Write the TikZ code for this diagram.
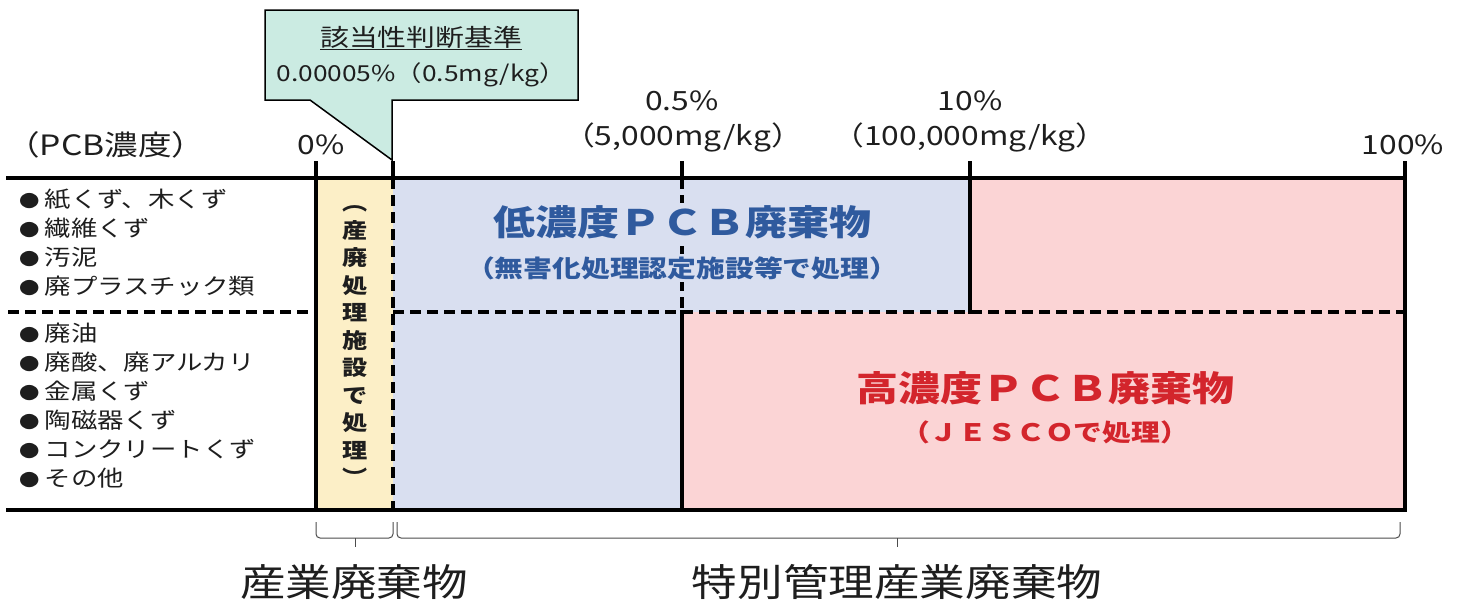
\documentclass[tikz,border=0pt]{standalone}
\usepackage{fontspec}
\setmainfont[FakeStretch=1.2]{Noto Sans CJK JP}
\definecolor{yel}{HTML}{FCEFC7}
\definecolor{blu}{HTML}{D9DFF0}
\definecolor{pnk}{HTML}{FBD4D5}
\definecolor{teal}{HTML}{CBEBE2}
\definecolor{btxt}{HTML}{2F5A9E}
\definecolor{rtxt}{HTML}{D3252C}
\definecolor{gtxt}{HTML}{1E1E1E}
\newcommand{\bul}{{\fontsize{17}{17}\selectfont ●}\hspace{5pt}}
\begin{document}
\begin{tikzpicture}[x=1pt,y=-1pt,
  solidln/.style={line width=3.5pt,line cap=rect},
  dashln/.style={line width=3.5pt,dash pattern=on 11pt off 6pt},
  brace/.style={line width=1pt,draw=black!70,rounded corners=4pt},
  txt/.style={inner sep=0pt,text=gtxt},
  listtxt/.style={txt,anchor=north west,align=left,font=\fontsize{22}{29}\selectfont},
  numtxt/.style={txt,font=\fontsize{26.5}{30}\selectfont},
  bigtitle/.style={inner sep=2pt,font=\fontsize{35}{40}\selectfont\bfseries},
  subtitle/.style={inner sep=2pt,font=\fontsize{24}{28}\selectfont\bfseries}]
\useasboundingbox (0,0) rectangle (1465,603);
% fills
\fill[yel] (316,178) rectangle (393,510);
\fill[blu] (393,178) rectangle (970,312);
\fill[blu] (393,312) rectangle (682,510);
\fill[pnk] (970,178) rectangle (1405,312);
\fill[pnk] (682,312) rectangle (1405,510);
% lines
\draw[dashln] (8,312) -- (316,312);
\draw[dashln] (393,312) -- (1405,312);
\draw[dashln] (393,178) -- (393,510);
\draw[dashln] (682,178) -- (682,312);
\draw[solidln] (682,312) -- (682,510);
\draw[solidln] (970,163) -- (970,312);
\draw[solidln] (316,163) -- (316,510);
\draw[solidln] (393,163) -- (393,178);
\draw[solidln] (682,163) -- (682,178);
\draw[solidln] (1405,163) -- (1405,510);
\draw[solidln] (8,178) -- (1405,178);
\draw[solidln] (8,510) -- (1405,510);
% callout
\draw[fill=teal,line width=1.5pt,line join=miter]
  (265,10) -- (578,10) -- (578,100) -- (392,100) -- (392,160) -- (310,100) -- (265,100) -- cycle;
\node[txt,font=\fontsize{24}{28}\selectfont] (cttl) at (421,38) {\underline{該当性判断基準}};
\node[txt,font=\fontsize{22}{26}\selectfont] (cval) at (421,75) {0.00005\%（0.5mg/kg）};
% axis labels
\node[txt,font=\fontsize{28}{32}\selectfont,anchor=west] (pcb) at (6,145) {（PCB濃度）};
\node[numtxt] (p0) at (321,145) {0\%};
\node[numtxt] (p05) at (682,101) {0.5\%};
\node[numtxt] (m05) at (683,137) {（5,000mg/kg）};
\node[numtxt] (p10) at (970,101) {10\%};
\node[numtxt] (m10) at (970,137) {（100,000mg/kg）};
\node[numtxt] (p100) at (1403,145) {100\%};
% list
\node[listtxt] (list1) at (19,189) {\bul 紙くず、木くず\\\bul 繊維くず\\\bul 汚泥\\\bul 廃プラスチック類};
\node[listtxt] (list2) at (19,323) {\bul 廃油\\\bul 廃酸、廃アルカリ\\\bul 金属くず\\\bul 陶磁器くず\\\bul コンクリートくず\\\bul その他};
% vertical column text
\node[txt,align=center,font=\fontsize{21}{27.5}\selectfont\bfseries] (col) at (355,346)
  {︵\\産\\廃\\処\\理\\施\\設\\で\\処\\理\\︶};
% titles
\node[bigtitle,text=btxt,fill=blu] (low) at (682,222) {低濃度ＰＣＢ廃棄物};
\node[subtitle,text=btxt,fill=blu] (lows) at (682,268) {（無害化処理認定施設等で処理）};
\node[bigtitle,text=rtxt] (high) at (1045,388) {高濃度ＰＣＢ廃棄物};
\node[subtitle,text=rtxt] (highs) at (1045,432) {（ＪＥＳＣＯで処理）};
% braces
\draw[brace] (316,522) -- (316,538) -- (393,538) -- (393,522);
\draw[brace] (397,522) -- (397,538) -- (1400,538) -- (1400,522);
\coordinate (b1) at (355,538);
\coordinate (b2) at (897,538);
\draw[line width=1pt,draw=black!70] (b1) -- ++(0,9);
\draw[line width=1pt,draw=black!70] (b2) -- ++(0,9);
\node[txt,font=\fontsize{38}{42}\selectfont] (ind) at (354,582) {産業廃棄物};
\node[txt,font=\fontsize{38}{42}\selectfont] (spc) at (897,582) {特別管理産業廃棄物};
\end{tikzpicture}
\end{document}
